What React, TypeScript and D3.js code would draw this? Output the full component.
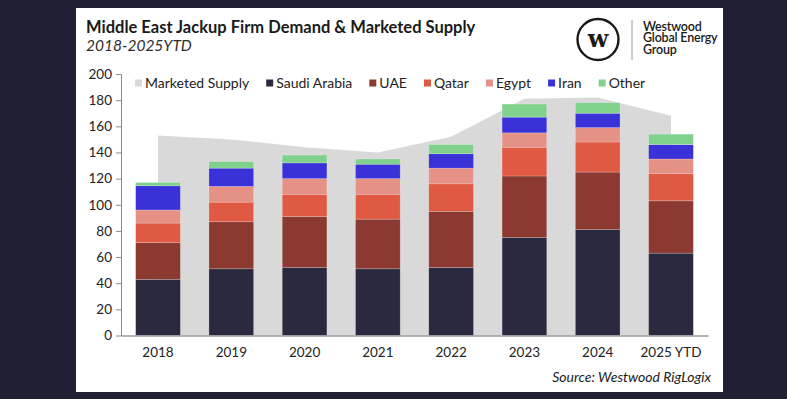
import React, { useEffect, useRef } from 'react';
import * as d3 from 'd3';

// Categories and values
const years = ['2018', '2019', '2020', '2021', '2022', '2023', '2024', '2025 YTD'];
const marketedSupply = [153, 150, 144, 140, 152, 181, 182, 168];
const saudiArabia = [43, 51, 52, 51, 52, 75, 81, 63];
const uae = [28, 36, 39, 38, 43, 47, 44, 40];
const qatar = [15, 15, 17, 19, 21, 22, 23, 21];
const egypt = [10, 12, 12, 12, 12, 11, 11, 11];
const iran = [18.5, 14, 12, 11, 11, 12, 11, 11];
const other = [2.5, 5, 6, 4, 7, 10, 8, 8];
const yTicks = [0, 20, 40, 60, 80, 100, 120, 140, 160, 180, 200];

const seriesNames = ['Saudi Arabia', 'UAE', 'Qatar', 'Egypt', 'Iran', 'Other'];
const seriesValues = [saudiArabia, uae, qatar, egypt, iran, other];
const seriesColors = ['#2b2940', '#8c3a31', '#e05a43', '#e69185', '#3a32d8', '#80d18c'];
const supplyColor = '#d9d9d9';

const FONT = 'Lato, "Open Sans", sans-serif';

const App = () => {
    const svgRef = useRef<SVGSVGElement>(null);

    useEffect(() => {
        const width = 787;
        const height = 399;

        const root = d3.select(svgRef.current);
        root.selectAll('*').remove();
        root.attr('width', width).attr('height', height);

        // Dark page background and white card
        root.append('rect').attr('width', width).attr('height', height).attr('fill', '#211f34');
        root.append('rect')
            .attr('x', 76).attr('y', 8)
            .attr('width', 647).attr('height', 384)
            .attr('fill', '#ffffff');

        // Build rows for the stack from the named arrays
        const rows = years.map((year, i) => {
            const row: any = { year };
            seriesNames.forEach((name, s) => { row[name] = seriesValues[s][i]; });
            return row;
        });

        const xScale = d3.scaleBand()
            .domain(years)
            .range([121, 708])
            .paddingInner(0.39)
            .paddingOuter(0.2);

        const yScale = d3.scaleLinear()
            .domain([0, 200])
            .range([335.5, 74]);

        // Marketed supply as a grey area between bar centres
        const area = d3.area<number>()
            .x((_, i) => (xScale(years[i]) as number) + xScale.bandwidth() / 2)
            .y0(yScale(0))
            .y1(d => yScale(d));

        root.append('path')
            .datum(marketedSupply)
            .attr('d', area)
            .attr('fill', supplyColor);

        // Stacked country bars
        const stacked = d3.stack().keys(seriesNames)(rows);
        root.append('g')
            .selectAll('g')
            .data(stacked)
            .enter()
            .append('g')
            .attr('fill', (_, i) => seriesColors[i])
            .selectAll('rect')
            .data(d => d)
            .enter()
            .append('rect')
            .attr('x', (d: any) => xScale(d.data.year) as number)
            .attr('y', d => yScale(d[1]))
            .attr('width', xScale.bandwidth())
            .attr('height', d => yScale(d[0]) - yScale(d[1]))
            .attr('stroke', '#ffffff')
            .attr('stroke-opacity', 0.35)
            .attr('stroke-width', 0.6);

        // Y axis
        const yAxis = root.append('g')
            .attr('transform', `translate(121,0)`)
            .call(d3.axisLeft(yScale).tickValues(yTicks).tickSize(5).tickSizeOuter(0).tickPadding(4));
        yAxis.select('.domain').attr('stroke', '#8a8a8a');
        yAxis.selectAll('.tick line').attr('stroke', '#8a8a8a');
        yAxis.selectAll('text')
            .attr('font-family', FONT)
            .attr('font-size', '13.5px')
            .attr('fill', '#222');

        // X axis
        const xAxis = root.append('g')
            .attr('transform', `translate(0,${yScale(0)})`)
            .call(d3.axisBottom(xScale).tickSize(0).tickPadding(12));
        xAxis.select('.domain').attr('stroke', '#9a9a9a').attr('stroke-width', 1.6);
        xAxis.selectAll('text')
            .attr('font-family', FONT)
            .attr('font-size', '13.5px')
            .attr('fill', '#222');

        // Legend, flowing left to right
        const legendItems = [{ name: 'Marketed Supply', color: supplyColor }]
            .concat(seriesNames.map((name, i) => ({ name, color: seriesColors[i] })));
        const legend = root.append('g').attr('transform', 'translate(135,83)');
        let lx = 0;
        legendItems.forEach(item => {
            legend.append('rect')
                .attr('x', lx).attr('y', -3.5)
                .attr('width', 7).attr('height', 7)
                .attr('fill', item.color);
            const t = legend.append('text')
                .attr('x', lx + 10)
                .attr('y', 5)
                .attr('font-family', FONT)
                .attr('font-size', '14px')
                .attr('fill', '#222')
                .text(item.name);
            const w = (t.node() as SVGTextElement).getComputedTextLength();
            lx += 10 + w + 17;
        });

        // Title and subtitle
        root.append('text')
            .attr('x', 86).attr('y', 33)
            .attr('font-family', FONT)
            .attr('font-weight', 700)
            .attr('font-size', '16.5px')
            .attr('fill', '#1a1a1a')
            .text('Middle East Jackup Firm Demand & Marketed Supply');
        root.append('text')
            .attr('x', 86).attr('y', 50.5)
            .attr('font-family', FONT)
            .attr('font-style', 'italic')
            .attr('font-size', '15.5px')
            .attr('fill', '#2e2e2e')
            .text('2018-2025YTD');

        // Logo
        const logo = root.append('g');
        logo.append('circle')
            .attr('cx', 598).attr('cy', 39.5).attr('r', 20.5)
            .attr('fill', 'none')
            .attr('stroke', '#1a1a1a')
            .attr('stroke-width', 2.4);
        logo.append('text')
            .attr('x', 598).attr('y', 46.5)
            .attr('text-anchor', 'middle')
            .attr('font-family', '"DejaVu Serif", serif')
            .attr('font-weight', 700)
            .attr('font-size', '24px')
            .attr('fill', '#1a1a1a')
            .text('w');
        logo.append('line')
            .attr('x1', 632).attr('x2', 632)
            .attr('y1', 20).attr('y2', 60)
            .attr('stroke', '#9a9a9a')
            .attr('stroke-width', 1);
        ['Westwood', 'Global Energy', 'Group'].forEach((line, i) => {
            logo.append('text')
                .attr('x', 643).attr('y', 30.5 + i * 11.5)
                .attr('font-family', FONT)
                .attr('font-weight', 600)
                .attr('font-size', '12.5px')
                .attr('letter-spacing', '-0.2px')
                .attr('fill', '#1a1a1a')
                .text(line);
        });

        // Source note
        root.append('text')
            .attr('x', 711).attr('y', 381.5)
            .attr('text-anchor', 'end')
            .attr('font-family', FONT)
            .attr('font-style', 'italic')
            .attr('font-size', '14px')
            .attr('fill', '#1a1a1a')
            .text('Source: Westwood RigLogix');
    }, []);

    return <svg ref={svgRef} style={{ position: 'fixed', left: 0, top: 0, display: 'block' }}></svg>;
};

export default App;
